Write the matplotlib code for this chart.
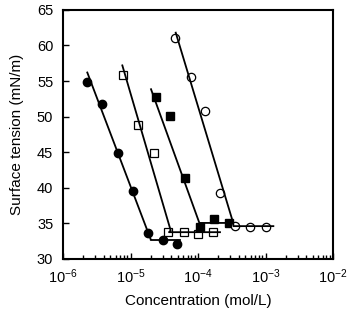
import numpy as np
import matplotlib
matplotlib.use('Agg')
import matplotlib.pyplot as plt

plt.rcParams['font.family'] = ['Liberation Sans', 'DejaVu Sans']
plt.rcParams['mathtext.fontset'] = 'custom'
plt.rcParams['mathtext.rm'] = 'Liberation Sans'
plt.rcParams['mathtext.it'] = 'Liberation Sans'

# measured data (concentration in mol/L, surface tension in mN/m)
fc_x = [2.3e-6, 3.8e-6, 6.6e-6, 1.1e-5, 1.8e-5, 3.0e-5, 4.9e-5]
fc_y = [54.9, 51.8, 44.9, 39.5, 33.6, 32.65, 32.05]

os_x = [7.8e-6, 1.3e-5, 2.2e-5, 3.6e-5, 6.1e-5, 1.0e-4, 1.65e-4]
os_y = [55.9, 48.8, 44.9, 33.8, 33.8, 33.45, 33.8]

fs_x = [2.36e-5, 3.9e-5, 6.4e-5, 1.07e-4, 1.75e-4, 2.9e-4]
fs_y = [52.8, 50.1, 41.3, 34.45, 35.6, 35.0]

oc_x = [4.56e-5, 7.8e-5, 1.28e-4, 2.1e-4, 3.5e-4, 5.9e-4, 1.0e-3]
oc_y = [61.0, 55.6, 50.8, 39.2, 34.6, 34.45, 34.5]

# fitted lines: steep part then plateau (log10 of concentration)
fc_fit_lx = [-5.64, -4.701, -4.701, -4.267]
fc_fit_y = [56.2, 32.75, 32.65, 32.65]
os_fit_lx = [-5.121, -4.405, -4.43, -3.674]
os_fit_y = [57.2, 34.0, 33.75, 33.75]
fs_fit_lx = [-4.696, -3.98, -3.98, -3.526]
fs_fit_y = [53.85, 35.05, 35.05, 35.05]
oc_fit_lx = [-4.33, -3.477, -3.477, -2.884]
oc_fit_y = [61.8, 35.0, 34.6, 34.6]

fig = plt.figure(figsize=(3.48, 3.10), dpi=100)
ax = fig.add_axes([0.181, 0.165, 0.776, 0.803])

ms = 6
ax.plot(fc_x, fc_y, 'o', color='black', ms=ms)
ax.plot(os_x, os_y, 's', mfc='white', mec='black', mew=0.9, ms=ms)
ax.plot(fs_x, fs_y, 's', color='black', ms=ms)
ax.plot(oc_x, oc_y, 'o', mfc='white', mec='black', mew=0.9, ms=ms)

for lx, ly in [(fc_fit_lx, fc_fit_y), (os_fit_lx, os_fit_y),
               (fs_fit_lx, fs_fit_y), (oc_fit_lx, oc_fit_y)]:
    ax.plot(10 ** np.array(lx), ly, '-', color='black', lw=1.3)

ax.set_xscale('log')
ax.set_xlim(1e-6, 1e-2)
ax.set_ylim(30, 65)
ax.set_yticks(range(30, 66, 5))
ax.tick_params(which='both', direction='in', top=False, right=False,
               labelsize=10.5)
ax.tick_params(which='major', length=4, width=1)
ax.tick_params(which='minor', length=3, width=1)
ax.tick_params(axis='x', pad=6)
ax.tick_params(axis='y', pad=7)
for s in ax.spines.values():
    s.set_linewidth(1.5)

ax.set_xlabel('Concentration (mol/L)', fontsize=11, labelpad=6)
ax.set_ylabel('Surface tension (mN/m)', fontsize=11, labelpad=9)

fig.savefig('out.png', dpi=100)
